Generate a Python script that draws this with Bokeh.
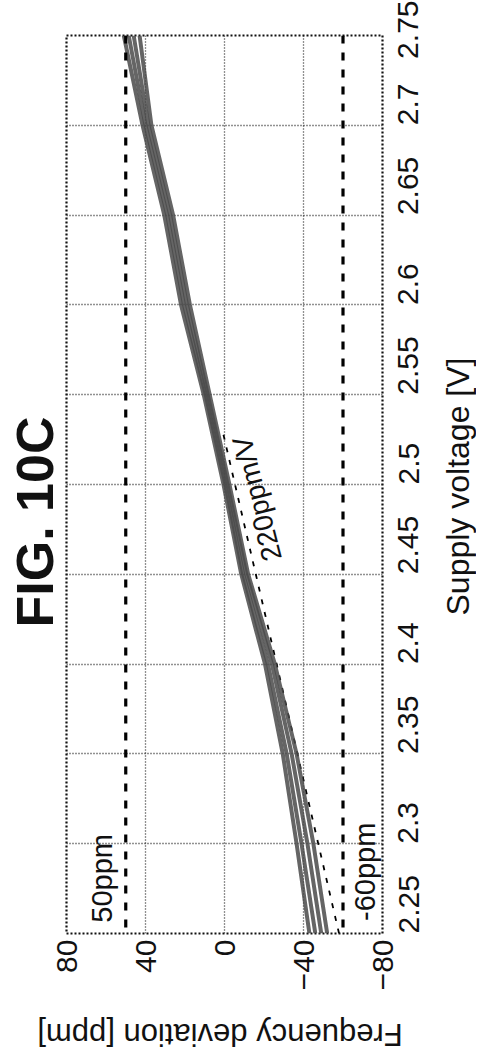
import math
from bokeh.plotting import figure
from bokeh.layouts import column, row
from bokeh.models import Range1d, FixedTicker, Span, ColumnDataSource, Div
from bokeh.core.properties import value
from bokeh.embed import file_html
from bokeh.resources import INLINE

# ---- data ----
voltage = [2.25, 2.30, 2.35, 2.40, 2.45, 2.50, 2.55, 2.60, 2.65, 2.70, 2.75]
curve_1 = [-43, -36.5, -29.5, -20.5, -8.5, 0.5, 10.5, 22.0, 30.5, 41.5, 51.0]
curve_2 = [-46, -39.0, -31.5, -22.0, -9.5, -0.5, 9.5, 20.5, 29.0, 40.0, 48.5]
curve_3 = [-49, -42.0, -34.0, -24.0, -11.0, -1.5, 8.5, 19.0, 27.5, 38.5, 46.0]
curve_4 = [-52, -45.0, -36.5, -25.5, -12.0, -2.5, 7.5, 17.5, 26.0, 37.0, 43.0]
fit_voltage = [2.25, 2.53]
fit_ppm = [-58, 1]
limits_ppm = [50, -60]
limit_labels = ["50ppm", "-60ppm"]
fit_label = "220ppm/V"
volt_ticks = [2.25, 2.3, 2.35, 2.4, 2.45, 2.5, 2.55, 2.6, 2.65, 2.7, 2.75]
ppm_ticks = [-80, -40, 0, 40, 80]
x_title = "Frequency deviation [ppm]"
y_title = "Supply voltage [V]"
fig_title = "FIG. 10C"

FONT = "Liberation Sans"
INK = "#111111"

MAIN_W, MAIN_H = 440, 1005
STRIP_H = 47

p = figure(width=MAIN_W, height=MAIN_H,
           x_range=Range1d(80, -80), y_range=Range1d(2.25, 2.75),
           x_axis_location="below", y_axis_location="right",
           output_backend="svg", toolbar_location=None,
           title=fig_title, title_location="left",
           min_border_left=66, min_border_right=58,
           min_border_top=35, min_border_bottom=72)

p.title.text_font = FONT
p.title.text_font_size = "52px"
p.title.text_font_style = "bold"
p.title.text_color = INK
p.title.align = "left"
p.title.offset = 306
p.title.standoff = 6

# axes
xa = p.xaxis[0]
ya = p.yaxis[0]
for ax in (xa, ya):
    ax.axis_line_color = None
    ax.major_tick_out = 0
    ax.major_tick_in = 0
    ax.minor_tick_out = 0
    ax.minor_tick_in = 0
    ax.major_label_text_font = FONT
    ax.major_label_text_font_size = "30px"
    ax.major_label_text_color = INK
    ax.major_label_orientation = math.pi / 2

xa.ticker = FixedTicker(ticks=ppm_ticks)
xa.major_label_overrides = {t: (("\u2212" + str(abs(t))) if t < 0 else str(t)) for t in ppm_ticks}
xa.major_label_standoff = 6

ya.ticker = FixedTicker(ticks=volt_ticks)
ya.major_label_overrides = {t: ("%g" % t) for t in volt_ticks}
ya.major_label_standoff = 26

# grid
for g in (p.xgrid[0], p.ygrid[0]):
    g.grid_line_color = "#222222"
    g.grid_line_dash = "1 2"
    g.grid_line_width = 1.3
p.xgrid[0].ticker = FixedTicker(ticks=ppm_ticks)
p.ygrid[0].ticker = FixedTicker(ticks=volt_ticks)

p.outline_line_color = INK
p.outline_line_dash = "2 2"
p.outline_line_width = 2.2

# limit lines
for lim in limits_ppm:
    p.add_layout(Span(location=lim, dimension="height", line_color="black",
                      line_width=3.2, line_dash="8 9"))

# fit line
p.line(fit_ppm, fit_voltage, line_color="black", line_width=1.8, line_dash="5 8")

# curves
for c in (curve_1, curve_2, curve_3, curve_4):
    p.line(c, voltage, line_color="#4a4a4a", line_width=4, line_alpha=0.85)

# annotation texts
src = ColumnDataSource(dict(
    x=[limits_ppm[0] + 12, limits_ppm[1] - 11],
    y=[2.256, 2.257],
    t=limit_labels))
p.text(x="x", y="y", text="t", source=src, angle=math.pi / 2,
       text_align="left", text_baseline="middle",
       text_font=value(FONT), text_font_size="29px", text_color=INK)

p.text(x=[-16.5], y=[2.492], text=[fit_label], angle=1.82,
       text_align="center", text_baseline="middle",
       text_font=value(FONT), text_font_size="28px", text_color=INK)

# strip below the chart: upside-down x-axis title (HTML text turned 180 degrees)
b = Div(text=x_title, width=MAIN_W, height=STRIP_H, margin=0,
        styles={"transform": "rotate(180deg)",
                "font-family": "'Liberation Sans', Arial, sans-serif",
                "font-size": "31px", "color": INK,
                "text-align": "center", "line-height": "36px",
                "white-space": "nowrap", "overflow": "visible"})

# strip at the right: y-axis title reading upward
R_W = 36
r = figure(width=R_W, height=MAIN_H + STRIP_H,
           x_range=Range1d(0, R_W), y_range=Range1d(0, MAIN_H + STRIP_H),
           output_backend="svg", toolbar_location=None, title=None,
           x_axis_location=None, y_axis_location=None,
           min_border_left=0, min_border_right=0,
           min_border_top=0, min_border_bottom=0)
r.grid.visible = False
r.outline_line_color = None
r.text(x=[17.5], y=[MAIN_H + STRIP_H - 486], text=[y_title], angle=math.pi / 2,
       text_align="center", text_baseline="middle",
       text_font=value(FONT), text_font_size="32px", text_color=INK)

layout = row(column(p, b, spacing=0), r, spacing=0)
open("out.html", "w").write(file_html(layout, INLINE))
